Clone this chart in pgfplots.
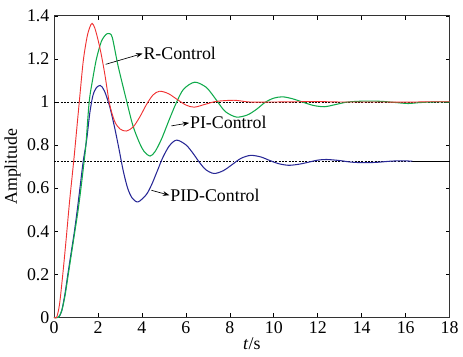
\documentclass[border=0pt]{standalone}
\usepackage{fontspec}
\setmainfont{Liberation Serif}
\usepackage{pgfplots}
\pgfplotsset{compat=1.18}
\usetikzlibrary{arrows.meta}
\definecolor{cred}{RGB}{240,50,50}
\definecolor{cgreen}{RGB}{15,170,75}
\definecolor{cblue}{RGB}{40,40,150}
\begin{document}
\begin{tikzpicture}
\begin{axis}[
  scale only axis,
  width=299.25pt, height=228pt,
  xmin=0, xmax=18, ymin=0, ymax=1.4,
  xtick={0,2,...,18},
  ytick={0,0.2,0.4,0.6,0.8,1,1.2,1.4},
  yticklabels={0,0.2,0.4,0.6,0.8,1,1.2,1.4},
  tick pos=both, tick align=inside,
  major tick length=3pt,
  every tick/.style={black, line width=0.5pt},
  axis line style={line width=0.6pt, black!80},
  font=\fontsize{13.5}{16}\selectfont,
  /pgf/number format/assume math mode=true,
  xlabel={\textit{t}/s},
  ylabel={Amplitude},
  xlabel style={yshift=4pt},
  ylabel style={yshift=-2pt},
  clip=false,
]
\addplot[black, line width=0.5pt, dash pattern=on 1.5pt off 1pt] coordinates {(0,1) (18,1)};
\addplot[black, line width=0.5pt, dash pattern=on 1.5pt off 1pt] coordinates {(0,0.725) (16.3,0.725)};
\addplot[black, line width=0.6pt] coordinates {(16.3,0.725) (18,0.725)};
% PID-Control (blue)
\addplot[cblue, line width=0.8pt, smooth, tension=0.5] coordinates {
(0,0)(0.2,0)(0.35,0.03)(0.5,0.11)(0.63,0.2)(0.78,0.3)(0.93,0.4)(1.06,0.5)(1.18,0.6)(1.33,0.725)(1.48,0.82)(1.63,0.95)(1.77,1.03)(1.92,1.065)(2.11,1.077)(2.3,1.05)(2.53,0.98)(2.75,0.885)(2.95,0.785)(3.15,0.68)(3.35,0.6)(3.55,0.555)(3.82,0.536)(4.2,0.57)(4.45,0.618)(4.7,0.68)(4.95,0.742)(5.25,0.797)(5.58,0.823)(6.0,0.801)(6.3,0.765)(6.6,0.722)(6.9,0.686)(7.28,0.668)(7.7,0.681)(8.1,0.709)(8.5,0.738)(8.94,0.752)(9.4,0.745)(9.8,0.729)(10.2,0.714)(10.68,0.706)(11.2,0.712)(11.6,0.721)(12.0,0.730)(12.4,0.733)(13.0,0.728)(13.5,0.721)(14.1,0.718)(14.7,0.72)(15.3,0.725)(15.8,0.727)(16.3,0.725)};
% PI-Control (green)
\addplot[cgreen, line width=0.8pt, smooth, tension=0.5] coordinates {
(0,0)(0.2,0)(0.35,0.03)(0.5,0.1)(0.65,0.2)(0.8,0.3)(0.95,0.4)(1.1,0.5)(1.25,0.62)(1.37,0.725)(1.45,0.8)(1.6,1.0)(1.75,1.1)(1.93,1.2)(2.15,1.28)(2.35,1.312)(2.49,1.318)(2.65,1.30)(2.91,1.17)(3.29,1.01)(3.59,0.89)(3.89,0.81)(4.1,0.77)(4.37,0.749)(4.6,0.77)(4.9,0.83)(5.25,0.92)(5.58,1.0)(5.9,1.06)(6.4,1.092)(6.9,1.07)(7.2,1.035)(7.45,1.0)(7.8,0.955)(8.3,0.93)(8.8,0.94)(9.2,0.965)(9.6,0.998)(10.0,1.018)(10.4,1.024)(10.85,1.015)(11.3,1.0)(11.8,0.984)(12.3,0.978)(12.8,0.988)(13.3,0.999)(13.8,1.003)(14.3,1.004)(14.9,1.003)(15.5,0.998)(16.1,0.993)(16.6,0.997)(17.2,1.0)(18,1.0)};
% R-Control (red)
\addplot[cred, line width=0.7pt, smooth, tension=0.5] coordinates {
(0,0)(0.12,0)(0.25,0.06)(0.4,0.2)(0.55,0.36)(0.7,0.53)(0.82,0.65)(0.92,0.75)(1.03,0.87)(1.15,1.0)(1.33,1.19)(1.5,1.3)(1.62,1.345)(1.73,1.365)(1.85,1.345)(2.0,1.29)(2.15,1.22)(2.31,1.13)(2.53,0.99)(2.76,0.91)(3.0,0.875)(3.29,0.865)(3.6,0.884)(3.9,0.93)(4.2,0.987)(4.5,1.032)(4.8,1.05)(5.2,1.039)(5.6,1.012)(6.0,0.986)(6.38,0.976)(6.9,0.99)(7.4,1.003)(8.2,1.008)(8.9,1.0)(10,1.0)(11,1.001)(12,1.002)(13,1.0)(14,1.0)(15,1.0)(16,0.999)(17,1.001)(18,1.001)};
% annotations
\draw[black, line width=0.5pt, -{Stealth[length=5pt,width=3.5pt]}] (axis cs:2.35,1.175) -- (axis cs:4.03,1.225);
\node[anchor=west, inner sep=0.5pt] at (axis cs:4.03,1.225) {R-Control};
\draw[black, line width=0.5pt, -{Stealth[length=5pt,width=3.5pt]}] (axis cs:5.34,0.889) -- (axis cs:6.15,0.903);
\node[anchor=west, inner sep=0.5pt] at (axis cs:6.15,0.903) {PI-Control};
\draw[black, line width=0.5pt, -{Stealth[length=5pt,width=3.5pt]}] (axis cs:4.43,0.590) -- (axis cs:5.25,0.567);
\node[anchor=west, inner sep=0.5pt] at (axis cs:5.25,0.567) {PID-Control};
\end{axis}
\path (current axis.south west) ++(-40.5pt,-30pt) coordinate (bbA);
\path (current axis.north east) ++(7.5pt,12pt) coordinate (bbB);
\path (bbA) rectangle (bbB);
\end{tikzpicture}
\end{document}
